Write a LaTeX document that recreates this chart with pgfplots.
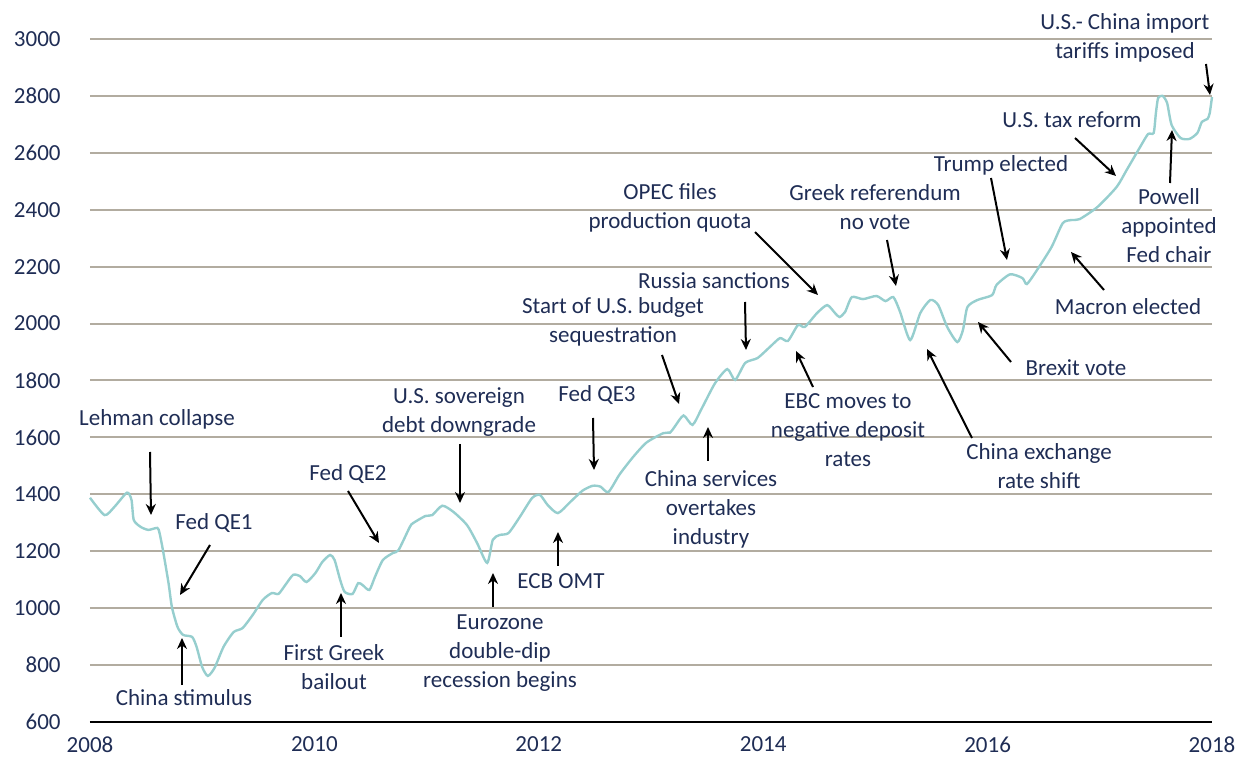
\documentclass[border=0pt]{standalone}
\usepackage{fontspec}
\setmainfont{Carlito}
\usepackage{pgfplots}
\pgfplotsset{compat=1.18}
\usetikzlibrary{arrows.meta}
\definecolor{txt}{RGB}{31,45,85}
\definecolor{gridc}{RGB}{178,172,160}
\definecolor{spx}{RGB}{150,206,206}
\begin{document}
\begin{tikzpicture}
\path[use as bounding box] (-45pt,-17pt) rectangle (574pt,361pt);
\begin{axis}[at={(0,0)}, anchor=south west, scale only axis,
  width=561pt, height=341.5pt,
  xmin=2008, xmax=2018, ymin=600, ymax=3000,
  xtick={2008,2010,...,2018}, ytick={600,800,...,3000},
  /pgf/number format/1000 sep={}, /pgf/number format/assume math mode=true,
  tick label style={font=\fontsize{11.5}{14}\selectfont, text=txt},
  yticklabel style={anchor=east, inner sep=0pt, xshift=-14.5pt},
  xticklabel style={anchor=north, inner sep=0pt, yshift=-7.3pt},
  major tick length=0pt, tick style={draw=none},
  axis x line*=bottom, axis y line*=left,
  x axis line style={-, black, line width=1pt},
  y axis line style={draw=none},
  ymajorgrids, grid style={gridc, line width=1pt},
  clip=false]
\addplot[spx, line width=1.2pt, smooth, tension=0.4] coordinates {
(2008.00,1388) (2008.13,1327) (2008.22,1357) (2008.33,1406) (2008.37,1380)
(2008.39,1310) (2008.45,1286) (2008.52,1275) (2008.60,1282) (2008.62,1264)
(2008.65,1204) (2008.70,1088) (2008.73,1004) (2008.78,934) (2008.83,906)
(2008.91,899) (2008.95,864) (2009.00,793) (2009.05,762) (2009.11,790)
(2009.19,864) (2009.28,916) (2009.36,930) (2009.45,976) (2009.54,1029)
(2009.62,1053) (2009.68,1050) (2009.74,1081) (2009.81,1117) (2009.87,1113)
(2009.93,1092) (2010.01,1124) (2010.07,1162) (2010.14,1187) (2010.18,1169)
(2010.23,1099) (2010.27,1057) (2010.34,1050) (2010.39,1088) (2010.43,1081)
(2010.49,1064) (2010.54,1110) (2010.61,1169) (2010.70,1194) (2010.75,1204)
(2010.85,1285) (2010.88,1299) (2010.99,1324) (2011.05,1327) (2011.14,1360)
(2011.24,1338) (2011.36,1292) (2011.45,1229) (2011.54,1159) (2011.59,1240)
(2011.65,1257) (2011.73,1264) (2011.83,1320) (2011.94,1387) (2012.01,1398)
(2012.08,1362) (2012.17,1334) (2012.28,1373) (2012.39,1413) (2012.48,1430)
(2012.55,1427) (2012.62,1408) (2012.72,1470) (2012.84,1531) (2012.96,1582)
(2013.11,1615) (2013.17,1617) (2013.21,1637) (2013.29,1677) (2013.37,1644)
(2013.45,1700) (2013.57,1790) (2013.68,1840) (2013.75,1802) (2013.84,1862)
(2013.95,1879) (2014.06,1918) (2014.15,1949) (2014.22,1939) (2014.31,1995)
(2014.37,1988) (2014.48,2037) (2014.57,2065) (2014.64,2037) (2014.68,2023)
(2014.73,2041) (2014.79,2093) (2014.89,2086) (2015.01,2097) (2015.09,2079)
(2015.16,2093) (2015.22,2041) (2015.31,1942) (2015.40,2037) (2015.49,2083)
(2015.56,2065) (2015.64,1988) (2015.73,1935) (2015.78,1977) (2015.82,2058)
(2015.91,2083) (2016.04,2100) (2016.08,2136) (2016.20,2173) (2016.31,2160)
(2016.35,2139) (2016.44,2188) (2016.57,2269) (2016.67,2353) (2016.75,2364)
(2016.82,2367) (2016.98,2410) (2017.15,2480) (2017.24,2540) (2017.36,2621)
(2017.43,2666) (2017.48,2670) (2017.50,2740) (2017.52,2793) (2017.56,2800)
(2017.60,2775) (2017.64,2698) (2017.72,2652) (2017.80,2649) (2017.87,2670)
(2017.91,2709) (2017.96,2719) (2017.98,2740) (2018.00,2796)
};
\end{axis}
\begin{scope}[x=0.5pt,y=-0.5pt,shift={(-45pt,361pt)},
  lab/.style={text=txt, align=center, font=\fontsize{11.5}{14.5}\selectfont, inner sep=0pt},
  arr/.style={-{Stealth[length=5.5pt,width=5pt]}, line width=1pt, black}]
\node[lab] at (157,419) {Lehman collapse};
\node[lab] at (214,523) {Fed QE1};
\node[lab] at (184,698) {China stimulus};
\node[lab] at (334,667) {First Greek\\bailout};
\node[lab] at (348,474) {Fed QE2};
\node[lab] at (459,412) {U.S. sovereign\\debt downgrade};
\node[lab] at (597,395) {Fed QE3};
\node[lab] at (500,653) {Eurozone\\double-dip\\recession begins};
\node[lab] at (561,581) {ECB OMT};
\node[lab] at (711,509) {China services\\overtakes\\industry};
\node[lab] at (613,322) {Start of U.S. budget\\sequestration};
\node[lab] at (714,281) {Russia sanctions};
\node[lab] at (670,208) {OPEC files\\production quota};
\node[lab] at (848,430) {EBC moves to\\negative deposit\\rates};
\node[lab] at (875,207) {Greek referendum\\no vote};
\node[lab] at (1039,466) {China exchange\\rate shift};
\node[lab] at (1076,368) {Brexit vote};
\node[lab] at (1001,165) {Trump elected};
\node[lab] at (1072,120) {U.S. tax reform};
\node[lab] at (1128,307) {Macron elected};
\node[lab] at (1169,226) {Powell\\appointed\\Fed chair};
\node[lab] at (1125,38) {U.S.- China import\\tariffs imposed};
\draw[arr] (150,452) -- (151,515);
\draw[arr] (210,545) -- (180,595);
\draw[arr] (182,685) -- (182,638);
\draw[arr] (341,637) -- (341,593);
\draw[arr] (348,491) -- (379,543);
\draw[arr] (460,444) -- (460,503);
\draw[arr] (593,418) -- (594,470);
\draw[arr] (493,607) -- (493,573);
\draw[arr] (558,566) -- (558,532);
\draw[arr] (708,461) -- (708,427);
\draw[arr] (662,355) -- (679,404);
\draw[arr] (745,302) -- (746,350);
\draw[arr] (755,232) -- (818,295);
\draw[arr] (813,387) -- (796,351);
\draw[arr] (887,240) -- (896,286);
\draw[arr] (972,438) -- (927,349);
\draw[arr] (1011,362) -- (978,322);
\draw[arr] (991,178) -- (1007,260);
\draw[arr] (1075,138) -- (1116,176);
\draw[arr] (1104,290) -- (1071,252);
\draw[arr] (1170,183) -- (1172,130);
\draw[arr] (1206,64) -- (1210,95);
\end{scope}
\end{tikzpicture}
\end{document}
